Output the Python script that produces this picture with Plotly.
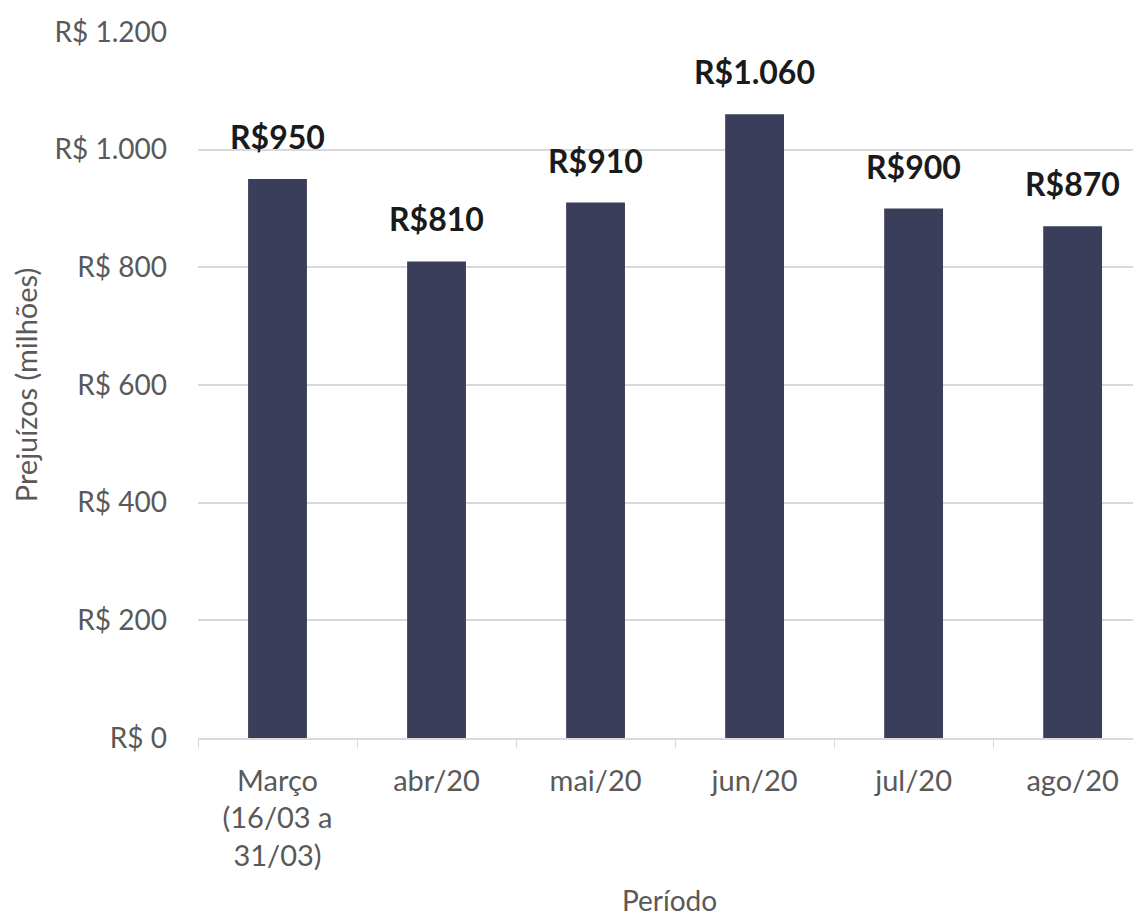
import plotly.graph_objects as go

categories = ["Março<br>(16/03 a<br>31/03)", "abr/20", "mai/20", "jun/20", "jul/20", "ago/20"]
values = [950, 810, 910, 1060, 900, 870]
value_labels = ["R$950", "R$810", "R$910", "R$1.060", "R$900", "R$870"]
y_ticks = [0, 200, 400, 600, 800, 1000, 1200]
y_tick_labels = ["R$ 0", "R$ 200", "R$ 400", "R$ 600", "R$ 800", "R$ 1.000", "R$ 1.200"]

FONT = "Lato"
BAR = "#3b3e5b"
GRID = "#d9d9d9"
TXT = "#595959"

fig = go.Figure()
fig.add_trace(go.Bar(
    x=categories, y=values,
    marker=dict(color=BAR, line=dict(width=0)),
    width=0.37,
    hoverinfo="skip",
))

for c, v, t in zip(categories, values, value_labels):
    fig.add_annotation(
        x=c, y=v, text=t, showarrow=False, yanchor="bottom", yshift=21,
        font=dict(family=FONT, size=32, color="#1a1a1a", weight="bold"),
    )

fig.update_layout(
    width=1133, height=909,
    margin=dict(l=190, r=0, t=24, b=179, autoexpand=False),
    paper_bgcolor="white", plot_bgcolor="white",
    showlegend=False,
    font=dict(family=FONT, color=TXT),
    xaxis=dict(
        range=[-0.5, 5.43],
        automargin=False,
        showgrid=False,
        showline=True, linecolor=GRID, linewidth=1.5,
        ticks="outside", tickson="boundaries", ticklen=8, tickcolor=GRID,
        ticklabelstandoff=16,
        tickfont=dict(family=FONT, size=29, color=TXT),
        title=dict(text="Período", font=dict(family=FONT, size=28, color=TXT), standoff=36),
    ),
    yaxis=dict(
        range=[0, 1200],
        automargin=False,
        tickvals=y_ticks, ticktext=y_tick_labels,
        showgrid=True, gridcolor=GRID, gridwidth=1.5,
        zeroline=False,
        showline=False,
        ticks="", ticklabelstandoff=30,
        tickfont=dict(family=FONT, size=28, color=TXT),
        title=dict(text="Prejuízos (milhões)", font=dict(family=FONT, size=29, color=TXT), standoff=14),
    ),
)

fig.write_html("out.html")
